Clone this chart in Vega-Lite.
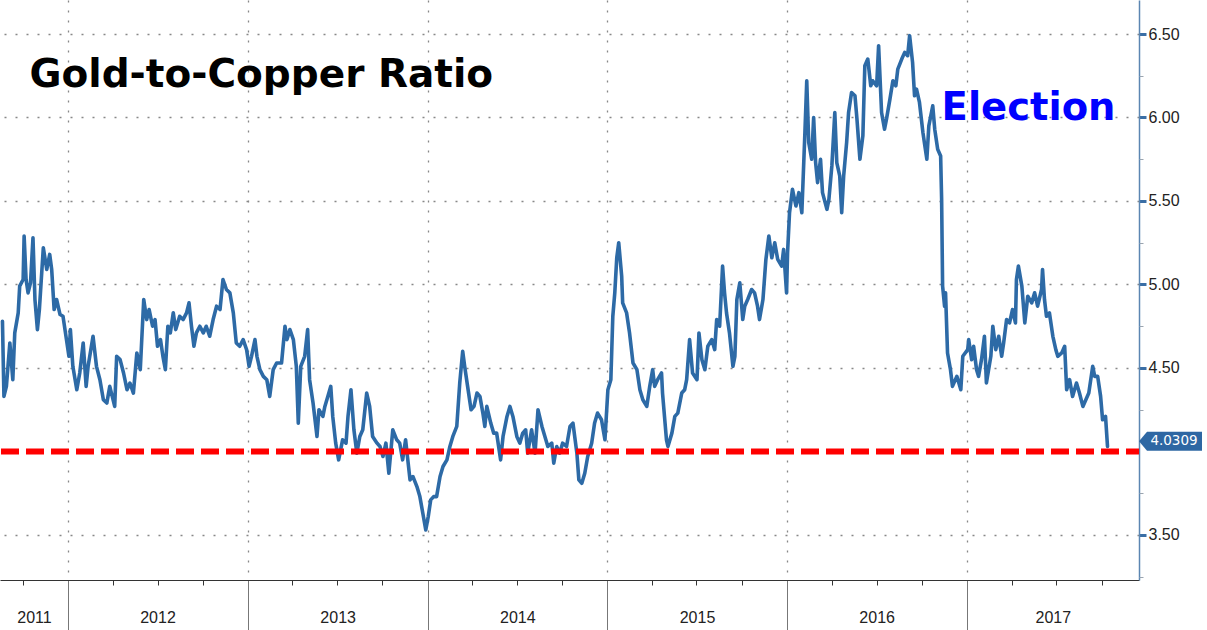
{
  "$schema": "https://vega.github.io/schema/vega-lite/v6.json",
  "autosize": {"type": "none"},
  "padding": {"left": 0, "top": 0, "right": 68, "bottom": 50},
  "width": 1139,
  "height": 580,
  "background": "white",
  "config": {"view": {"stroke": null}},
  "datasets": {
    "series": [
      {"date":"2011-08-21","value":4.78},{"date":"2011-08-24","value":4.33},{"date":"2011-08-29","value":4.39},{"date":"2011-09-05","value":4.65},{"date":"2011-09-11","value":4.43},{"date":"2011-09-15","value":4.71},{"date":"2011-09-22","value":4.83},{"date":"2011-09-25","value":4.99},{"date":"2011-10-02","value":5.03},{"date":"2011-10-04","value":5.29},{"date":"2011-10-08","value":5.03},{"date":"2011-10-12","value":4.95},{"date":"2011-10-17","value":5.01},{"date":"2011-10-22","value":5.28},{"date":"2011-10-26","value":4.91},{"date":"2011-10-31","value":4.73},{"date":"2011-11-04","value":4.85},{"date":"2011-11-12","value":5.22},{"date":"2011-11-19","value":5.09},{"date":"2011-11-25","value":5.18},{"date":"2011-11-29","value":5.09},{"date":"2011-12-04","value":4.85},{"date":"2011-12-09","value":4.91},{"date":"2011-12-16","value":4.82},{"date":"2011-12-22","value":4.81},{"date":"2011-12-29","value":4.67},
      {"date":"2012-01-03","value":4.57},{"date":"2012-01-06","value":4.73},{"date":"2012-01-11","value":4.51},{"date":"2012-01-19","value":4.37},{"date":"2012-01-25","value":4.47},{"date":"2012-02-01","value":4.65},{"date":"2012-02-07","value":4.39},{"date":"2012-02-11","value":4.51},{"date":"2012-02-21","value":4.69},{"date":"2012-02-28","value":4.51},{"date":"2012-03-06","value":4.43},{"date":"2012-03-13","value":4.31},{"date":"2012-03-20","value":4.29},{"date":"2012-03-26","value":4.39},{"date":"2012-04-05","value":4.27},{"date":"2012-04-09","value":4.57},{"date":"2012-04-16","value":4.55},{"date":"2012-04-23","value":4.47},{"date":"2012-04-30","value":4.37},{"date":"2012-05-06","value":4.41},{"date":"2012-05-13","value":4.35},{"date":"2012-05-20","value":4.59},{"date":"2012-05-27","value":4.49},{"date":"2012-06-03","value":4.91},{"date":"2012-06-09","value":4.79},{"date":"2012-06-14","value":4.85},{"date":"2012-06-21","value":4.75},{"date":"2012-06-26","value":4.79},{"date":"2012-07-01","value":4.63},{"date":"2012-07-07","value":4.67},{"date":"2012-07-12","value":4.57},{"date":"2012-07-17","value":4.49},{"date":"2012-07-22","value":4.75},{"date":"2012-07-27","value":4.71},{"date":"2012-08-02","value":4.83},{"date":"2012-08-07","value":4.73},{"date":"2012-08-15","value":4.81},{"date":"2012-08-22","value":4.79},{"date":"2012-08-29","value":4.83},{"date":"2012-09-03","value":4.89},{"date":"2012-09-08","value":4.75},{"date":"2012-09-13","value":4.63},{"date":"2012-09-18","value":4.71},{"date":"2012-09-25","value":4.75},{"date":"2012-10-02","value":4.71},{"date":"2012-10-08","value":4.75},{"date":"2012-10-15","value":4.69},{"date":"2012-10-22","value":4.79},{"date":"2012-10-29","value":4.87},{"date":"2012-11-05","value":4.85},{"date":"2012-11-11","value":5.03},{"date":"2012-11-18","value":4.97},{"date":"2012-11-25","value":4.95},{"date":"2012-12-02","value":4.83},{"date":"2012-12-08","value":4.65},{"date":"2012-12-15","value":4.63},{"date":"2012-12-22","value":4.67},{"date":"2012-12-29","value":4.61},
      {"date":"2013-01-03","value":4.51},{"date":"2013-01-08","value":4.57},{"date":"2013-01-15","value":4.67},{"date":"2013-01-19","value":4.57},{"date":"2013-01-25","value":4.49},{"date":"2013-02-01","value":4.45},{"date":"2013-02-08","value":4.43},{"date":"2013-02-14","value":4.33},{"date":"2013-02-21","value":4.49},{"date":"2013-02-28","value":4.53},{"date":"2013-03-10","value":4.53},{"date":"2013-03-17","value":4.75},{"date":"2013-03-21","value":4.67},{"date":"2013-03-27","value":4.73},{"date":"2013-04-03","value":4.67},{"date":"2013-04-09","value":4.51},{"date":"2013-04-13","value":4.17},{"date":"2013-04-18","value":4.51},{"date":"2013-04-26","value":4.57},{"date":"2013-05-02","value":4.73},{"date":"2013-05-06","value":4.43},{"date":"2013-05-13","value":4.29},{"date":"2013-05-21","value":4.09},{"date":"2013-05-25","value":4.25},{"date":"2013-06-02","value":4.21},{"date":"2013-06-06","value":4.27},{"date":"2013-06-12","value":4.33},{"date":"2013-06-18","value":4.39},{"date":"2013-06-22","value":4.21},{"date":"2013-06-28","value":4.05},{"date":"2013-07-04","value":3.95},{"date":"2013-07-12","value":4.07},{"date":"2013-07-19","value":4.05},{"date":"2013-07-23","value":4.21},{"date":"2013-07-29","value":4.37},{"date":"2013-08-04","value":4.13},{"date":"2013-08-10","value":3.99},{"date":"2013-08-16","value":4.09},{"date":"2013-08-22","value":4.13},{"date":"2013-08-30","value":4.35},{"date":"2013-09-05","value":4.27},{"date":"2013-09-11","value":4.09},{"date":"2013-09-20","value":4.05},{"date":"2013-09-26","value":4.03},{"date":"2013-10-02","value":3.97},{"date":"2013-10-08","value":4.05},{"date":"2013-10-14","value":3.87},{"date":"2013-10-22","value":4.13},{"date":"2013-10-30","value":4.07},{"date":"2013-11-05","value":4.05},{"date":"2013-11-11","value":3.95},{"date":"2013-11-17","value":4.07},{"date":"2013-11-26","value":3.83},{"date":"2013-12-02","value":3.85},{"date":"2013-12-10","value":3.79},{"date":"2013-12-16","value":3.73},{"date":"2013-12-22","value":3.63},{"date":"2013-12-28","value":3.53},
      {"date":"2014-01-02","value":3.61},{"date":"2014-01-07","value":3.71},{"date":"2014-01-13","value":3.73},{"date":"2014-01-19","value":3.73},{"date":"2014-01-26","value":3.85},{"date":"2014-02-01","value":3.91},{"date":"2014-02-09","value":3.95},{"date":"2014-02-15","value":4.03},{"date":"2014-02-21","value":4.09},{"date":"2014-03-01","value":4.15},{"date":"2014-03-07","value":4.41},{"date":"2014-03-13","value":4.60},{"date":"2014-03-17","value":4.51},{"date":"2014-03-23","value":4.39},{"date":"2014-03-30","value":4.25},{"date":"2014-04-05","value":4.27},{"date":"2014-04-11","value":4.35},{"date":"2014-04-17","value":4.33},{"date":"2014-04-23","value":4.23},{"date":"2014-04-27","value":4.15},{"date":"2014-05-01","value":4.27},{"date":"2014-05-09","value":4.17},{"date":"2014-05-15","value":4.11},{"date":"2014-05-21","value":4.11},{"date":"2014-05-29","value":3.95},{"date":"2014-06-03","value":4.09},{"date":"2014-06-11","value":4.21},{"date":"2014-06-17","value":4.27},{"date":"2014-06-23","value":4.21},{"date":"2014-07-01","value":4.09},{"date":"2014-07-07","value":4.05},{"date":"2014-07-13","value":4.11},{"date":"2014-07-19","value":4.13},{"date":"2014-07-23","value":3.99},{"date":"2014-07-31","value":4.13},{"date":"2014-08-07","value":3.99},{"date":"2014-08-13","value":4.25},{"date":"2014-08-21","value":4.15},{"date":"2014-08-27","value":4.09},{"date":"2014-09-02","value":4.03},{"date":"2014-09-10","value":4.05},{"date":"2014-09-14","value":3.93},{"date":"2014-09-20","value":4.03},{"date":"2014-09-26","value":3.99},{"date":"2014-10-02","value":4.05},{"date":"2014-10-10","value":4.03},{"date":"2014-10-17","value":4.15},{"date":"2014-10-23","value":4.17},{"date":"2014-10-31","value":3.99},{"date":"2014-11-04","value":3.83},{"date":"2014-11-10","value":3.81},{"date":"2014-11-16","value":3.87},{"date":"2014-11-22","value":3.97},{"date":"2014-11-30","value":4.05},{"date":"2014-12-06","value":4.17},{"date":"2014-12-12","value":4.23},{"date":"2014-12-20","value":4.19},{"date":"2014-12-27","value":4.07},
      {"date":"2015-01-02","value":4.37},{"date":"2015-01-08","value":4.43},{"date":"2015-01-12","value":4.81},{"date":"2015-01-16","value":4.95},{"date":"2015-01-20","value":5.16},{"date":"2015-01-24","value":5.25},{"date":"2015-01-30","value":5.05},{"date":"2015-02-01","value":4.89},{"date":"2015-02-09","value":4.83},{"date":"2015-02-15","value":4.71},{"date":"2015-02-22","value":4.53},{"date":"2015-03-02","value":4.49},{"date":"2015-03-08","value":4.37},{"date":"2015-03-14","value":4.31},{"date":"2015-03-22","value":4.27},{"date":"2015-03-28","value":4.39},{"date":"2015-04-03","value":4.49},{"date":"2015-04-07","value":4.39},{"date":"2015-04-13","value":4.43},{"date":"2015-04-21","value":4.47},{"date":"2015-04-23","value":4.35},{"date":"2015-05-01","value":4.07},{"date":"2015-05-04","value":4.03},{"date":"2015-05-12","value":4.11},{"date":"2015-05-18","value":4.21},{"date":"2015-05-24","value":4.23},{"date":"2015-06-01","value":4.35},{"date":"2015-06-07","value":4.37},{"date":"2015-06-11","value":4.43},{"date":"2015-06-17","value":4.67},{"date":"2015-06-23","value":4.47},{"date":"2015-07-02","value":4.43},{"date":"2015-07-06","value":4.71},{"date":"2015-07-12","value":4.55},{"date":"2015-07-18","value":4.49},{"date":"2015-07-24","value":4.63},{"date":"2015-08-01","value":4.67},{"date":"2015-08-07","value":4.61},{"date":"2015-08-11","value":4.79},{"date":"2015-08-17","value":4.75},{"date":"2015-08-23","value":5.11},{"date":"2015-08-27","value":4.95},{"date":"2015-08-31","value":4.83},{"date":"2015-09-06","value":4.71},{"date":"2015-09-13","value":4.51},{"date":"2015-09-17","value":4.57},{"date":"2015-09-21","value":4.91},{"date":"2015-09-27","value":5.01},{"date":"2015-10-03","value":4.79},{"date":"2015-10-07","value":4.87},{"date":"2015-10-13","value":4.91},{"date":"2015-10-21","value":4.97},{"date":"2015-10-27","value":4.95},{"date":"2015-11-02","value":4.87},{"date":"2015-11-06","value":4.79},{"date":"2015-11-13","value":4.91},{"date":"2015-11-19","value":5.15},{"date":"2015-11-25","value":5.29},{"date":"2015-12-01","value":5.16},{"date":"2015-12-07","value":5.25},{"date":"2015-12-13","value":5.15},{"date":"2015-12-21","value":5.11},{"date":"2015-12-25","value":5.21},{"date":"2015-12-31","value":4.95},
      {"date":"2016-01-02","value":5.19},{"date":"2016-01-06","value":5.43},{"date":"2016-01-12","value":5.57},{"date":"2016-01-19","value":5.47},{"date":"2016-01-25","value":5.55},{"date":"2016-01-31","value":5.43},{"date":"2016-02-06","value":5.89},{"date":"2016-02-10","value":6.22},{"date":"2016-02-14","value":5.85},{"date":"2016-02-20","value":5.75},{"date":"2016-02-24","value":6.00},{"date":"2016-02-28","value":5.73},{"date":"2016-03-03","value":5.61},{"date":"2016-03-09","value":5.75},{"date":"2016-03-13","value":5.55},{"date":"2016-03-22","value":5.45},{"date":"2016-03-26","value":5.51},{"date":"2016-04-01","value":5.71},{"date":"2016-04-07","value":6.03},{"date":"2016-04-11","value":5.73},{"date":"2016-04-17","value":5.65},{"date":"2016-04-21","value":5.43},{"date":"2016-04-25","value":5.65},{"date":"2016-05-01","value":5.85},{"date":"2016-05-05","value":6.03},{"date":"2016-05-11","value":6.15},{"date":"2016-05-18","value":6.13},{"date":"2016-05-22","value":5.99},{"date":"2016-05-28","value":5.75},{"date":"2016-06-03","value":5.89},{"date":"2016-06-07","value":6.31},{"date":"2016-06-13","value":6.35},{"date":"2016-06-19","value":6.19},{"date":"2016-06-23","value":6.22},{"date":"2016-07-01","value":6.19},{"date":"2016-07-05","value":6.43},{"date":"2016-07-11","value":6.03},{"date":"2016-07-17","value":5.93},{"date":"2016-07-21","value":5.99},{"date":"2016-07-28","value":6.11},{"date":"2016-08-03","value":6.22},{"date":"2016-08-09","value":6.19},{"date":"2016-08-13","value":6.29},{"date":"2016-08-21","value":6.35},{"date":"2016-08-27","value":6.39},{"date":"2016-09-02","value":6.37},{"date":"2016-09-06","value":6.49},{"date":"2016-09-12","value":6.33},{"date":"2016-09-16","value":6.13},{"date":"2016-09-20","value":6.17},{"date":"2016-09-26","value":6.09},{"date":"2016-10-03","value":5.91},{"date":"2016-10-07","value":5.83},{"date":"2016-10-11","value":5.75},{"date":"2016-10-15","value":5.95},{"date":"2016-10-23","value":6.07},{"date":"2016-10-27","value":5.93},{"date":"2016-11-02","value":5.81},{"date":"2016-11-08","value":5.77},{"date":"2016-11-10","value":5.51},{"date":"2016-11-12","value":4.99},{"date":"2016-11-16","value":4.87},{"date":"2016-11-18","value":4.95},{"date":"2016-11-22","value":4.59},{"date":"2016-11-28","value":4.49},{"date":"2016-12-02","value":4.39},{"date":"2016-12-11","value":4.45},{"date":"2016-12-19","value":4.37},{"date":"2016-12-23","value":4.57},
      {"date":"2017-01-02","value":4.61},{"date":"2017-01-04","value":4.67},{"date":"2017-01-10","value":4.55},{"date":"2017-01-14","value":4.63},{"date":"2017-01-20","value":4.49},{"date":"2017-01-24","value":4.45},{"date":"2017-01-30","value":4.55},{"date":"2017-02-05","value":4.69},{"date":"2017-02-09","value":4.41},{"date":"2017-02-18","value":4.57},{"date":"2017-02-22","value":4.75},{"date":"2017-02-28","value":4.61},{"date":"2017-03-06","value":4.69},{"date":"2017-03-12","value":4.57},{"date":"2017-03-16","value":4.65},{"date":"2017-03-22","value":4.79},{"date":"2017-03-28","value":4.77},{"date":"2017-04-03","value":4.85},{"date":"2017-04-09","value":4.77},{"date":"2017-04-11","value":5.03},{"date":"2017-04-15","value":5.11},{"date":"2017-04-22","value":4.99},{"date":"2017-04-28","value":4.77},{"date":"2017-05-04","value":4.93},{"date":"2017-05-12","value":4.89},{"date":"2017-05-18","value":4.95},{"date":"2017-05-24","value":4.87},{"date":"2017-06-01","value":4.97},{"date":"2017-06-03","value":5.09},{"date":"2017-06-07","value":4.91},{"date":"2017-06-11","value":4.81},{"date":"2017-06-17","value":4.83},{"date":"2017-06-24","value":4.69},{"date":"2017-06-30","value":4.61},{"date":"2017-07-04","value":4.57},{"date":"2017-07-12","value":4.59},{"date":"2017-07-18","value":4.63},{"date":"2017-07-22","value":4.37},{"date":"2017-07-28","value":4.43},{"date":"2017-08-03","value":4.33},{"date":"2017-08-11","value":4.41},{"date":"2017-08-17","value":4.35},{"date":"2017-08-24","value":4.27},{"date":"2017-08-30","value":4.31},{"date":"2017-09-05","value":4.35},{"date":"2017-09-13","value":4.51},{"date":"2017-09-17","value":4.45},{"date":"2017-09-23","value":4.45},{"date":"2017-09-29","value":4.33},{"date":"2017-10-03","value":4.19},{"date":"2017-10-09","value":4.21},{"date":"2017-10-13","value":4.0309}
    ]
  },
  "resolve": {"scale": {"x": "shared", "y": "shared"}, "axis": {"x": "independent", "y": "independent"}},
  "layer": [
    {
      "data": {"values": [{"label": "Gold-to-Copper Ratio", "date": "2011-10-15", "value": 6.184}]},
      "mark": {"type": "text", "align": "left", "baseline": "alphabetic", "font": "DejaVu Sans", "fontWeight": "bold", "fontSize": 39, "color": "#000000"},
      "encoding": {
        "x": {"field": "date", "type": "temporal",
              "scale": {"domain": [{"year": 2011, "month": 8, "date": 16}, {"year": 2017, "month": 12, "date": 16}]},
              "axis": {"orient": "bottom", "title": null, "labels": false, "domain": false,
                       "values": [{"year": 2012, "month": 1, "date": 1}, {"year": 2013, "month": 1, "date": 1}, {"year": 2014, "month": 1, "date": 1}, {"year": 2015, "month": 1, "date": 1}, {"year": 2016, "month": 1, "date": 1}, {"year": 2017, "month": 1, "date": 1}],
                       "tickSize": 50, "tickColor": "#777777", "tickWidth": 1,
                       "grid": true, "gridDash": [2, 8], "gridColor": "#888888", "gridWidth": 1.3}},
        "y": {"field": "value", "type": "quantitative", "scale": {"domain": [3.2305, 6.7036], "nice": false, "zero": false}, "axis": null},
        "text": {"field": "label"}
      }
    },
    {
      "data": {"values": [{"label": "Election", "date": "2016-11-10", "value": 5.985}]},
      "mark": {"type": "text", "align": "left", "baseline": "alphabetic", "font": "DejaVu Sans", "fontWeight": "bold", "fontSize": 38.5, "color": "#0000ff"},
      "encoding": {
        "x": {"field": "date", "type": "temporal",
              "scale": {"domain": [{"year": 2011, "month": 8, "date": 16}, {"year": 2017, "month": 12, "date": 16}]},
              "axis": {"orient": "bottom", "title": null, "domain": false, "ticks": false, "grid": false,
                       "values": [{"year": 2011, "month": 10, "date": 24}, {"year": 2012, "month": 7, "date": 1}, {"year": 2013, "month": 7, "date": 2}, {"year": 2014, "month": 7, "date": 2}, {"year": 2015, "month": 7, "date": 2}, {"year": 2016, "month": 7, "date": 1}, {"year": 2017, "month": 6, "date": 24}],
                       "format": "%Y", "labelPadding": 29, "labelFont": "Liberation Sans", "labelFontSize": 16, "labelColor": "#222222",
                       "labelFlush": false, "labelOverlap": false, "labelBound": false}},
        "y": {"field": "value", "type": "quantitative", "scale": {"domain": [3.2305, 6.7036], "nice": false, "zero": false}, "axis": null},
        "text": {"field": "label"}
      }
    },
    {
      "data": {"name": "series"},
      "mark": {"type": "line", "color": "#2d6aa6", "strokeWidth": 3.6, "strokeJoin": "round", "strokeCap": "round"},
      "encoding": {
        "x": {"field": "date", "type": "temporal",
              "scale": {"domain": [{"year": 2011, "month": 8, "date": 16}, {"year": 2017, "month": 12, "date": 16}]},
              "axis": {"orient": "bottom", "title": null, "labels": false, "grid": false,
                       "values": [{"year": 2011, "month": 10, "date": 1}, {"year": 2012, "month": 4, "date": 1}, {"year": 2012, "month": 7, "date": 1}, {"year": 2012, "month": 10, "date": 1}, {"year": 2013, "month": 4, "date": 1}, {"year": 2013, "month": 7, "date": 1}, {"year": 2013, "month": 10, "date": 1}, {"year": 2014, "month": 4, "date": 1}, {"year": 2014, "month": 7, "date": 1}, {"year": 2014, "month": 10, "date": 1}, {"year": 2015, "month": 4, "date": 1}, {"year": 2015, "month": 7, "date": 1}, {"year": 2015, "month": 10, "date": 1}, {"year": 2016, "month": 4, "date": 1}, {"year": 2016, "month": 7, "date": 1}, {"year": 2016, "month": 10, "date": 1}, {"year": 2017, "month": 4, "date": 1}, {"year": 2017, "month": 7, "date": 1}, {"year": 2017, "month": 10, "date": 1}],
                       "tickSize": 5, "tickColor": "#333333", "domain": true, "domainColor": "#333333", "domainWidth": 1.2}},
        "y": {"field": "value", "type": "quantitative", "scale": {"domain": [3.2305, 6.7036], "nice": false, "zero": false},
              "axis": {"orient": "right", "title": null, "values": [3.5, 4.5, 5, 5.5, 6, 6.5], "format": ".2f",
                       "tickSize": 7, "tickWidth": 3, "tickColor": "#3a6ea5",
                       "domain": true, "domainColor": "#5b86b2", "domainWidth": 1.5,
                       "grid": true, "gridDash": [2, 9], "gridColor": "#888888", "gridWidth": 1.3,
                       "labelFont": "Liberation Sans", "labelFontSize": 16, "labelColor": "#222222", "labelPadding": 2}}
      }
    },
    {
      "data": {"values": [{"level": 4.0}]},
      "mark": {"type": "rule", "color": "#ff0000", "strokeWidth": 6, "strokeDash": [18, 7], "strokeDashOffset": 5},
      "encoding": {
        "y": {"field": "level", "type": "quantitative", "scale": {"domain": [3.2305, 6.7036], "nice": false, "zero": false}, "axis": null}
      }
    },
    {
      "data": {"name": "series"},
      "transform": [
        {"window": [{"op": "row_number", "as": "rn"}], "sort": [{"field": "date", "order": "descending"}]},
        {"filter": "datum.rn === 1"}
      ],
      "mark": {"type": "point", "shape": "M0,-0.5 L0.8,-1.45 L6.3,-1.45 L6.3,0.45 L0.8,0.45 Z", "size": 400, "filled": true, "color": "#2e67a3", "opacity": 1, "strokeWidth": 0},
      "encoding": {
        "x": {"datum": {"year": 2017, "month": 12, "date": 16}, "type": "temporal",
              "scale": {"domain": [{"year": 2011, "month": 8, "date": 16}, {"year": 2017, "month": 12, "date": 16}]}, "axis": null},
        "y": {"field": "value", "type": "quantitative", "scale": {"domain": [3.2305, 6.7036], "nice": false, "zero": false},
              "axis": {"orient": "right", "title": null, "labels": false, "domain": false, "grid": false,
                       "values": [3.25, 3.75, 4.25, 4.75, 5.25, 5.75, 6.25], "tickSize": 4, "tickColor": "#9aa5b0", "tickWidth": 1}}
      }
    },
    {
      "data": {"name": "series"},
      "transform": [
        {"window": [{"op": "row_number", "as": "rn"}], "sort": [{"field": "date", "order": "descending"}]},
        {"filter": "datum.rn === 1"}
      ],
      "mark": {"type": "text", "align": "center", "baseline": "middle", "dx": 35, "dy": -5, "font": "DejaVu Sans", "fontSize": 13.5, "color": "#ffffff"},
      "encoding": {
        "x": {"datum": {"year": 2017, "month": 12, "date": 16}, "type": "temporal",
              "scale": {"domain": [{"year": 2011, "month": 8, "date": 16}, {"year": 2017, "month": 12, "date": 16}]}, "axis": null},
        "y": {"field": "value", "type": "quantitative", "scale": {"domain": [3.2305, 6.7036], "nice": false, "zero": false}, "axis": null},
        "text": {"field": "value", "type": "quantitative", "format": ".4f"}
      }
    }
  ]
}
